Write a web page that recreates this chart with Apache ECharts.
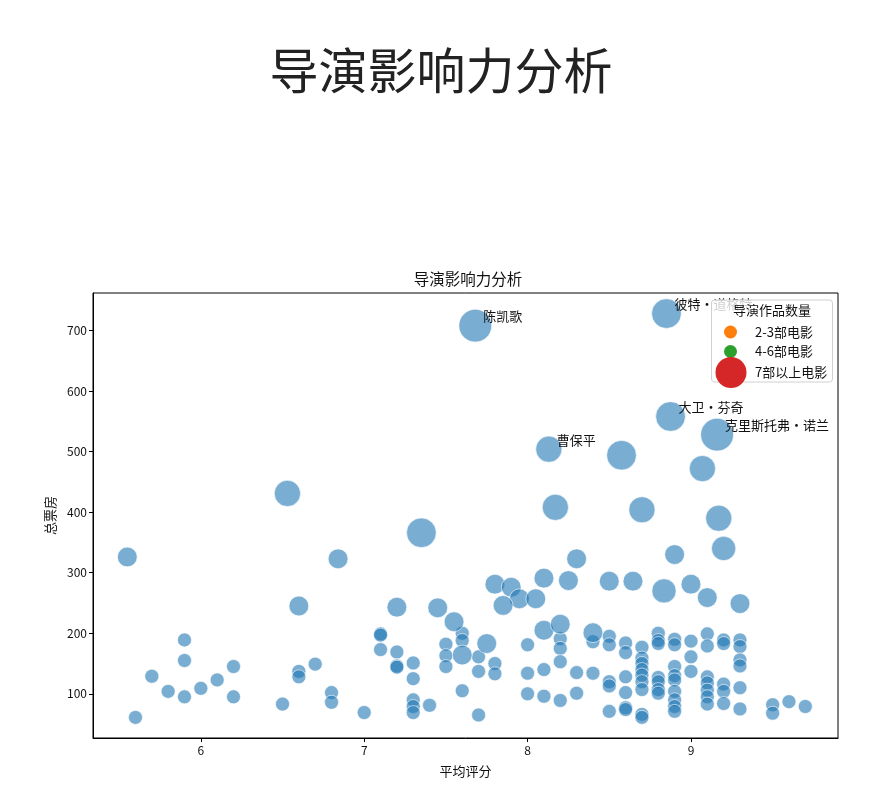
<!DOCTYPE html>
<html><head><meta charset="utf-8">
<script src="https://cdn.jsdelivr.net/npm/echarts@6/dist/echarts.min.js"></script>
<style>html,body{margin:0;padding:0;background:#fff}#c{width:879px;height:803px}</style>
</head><body><div id="c"></div>
<script>
// ---- data ----
const pageTitle = '导演影响力分析';
const chartTitle = '导演影响力分析';
const xAxisName = '平均评分';
const yAxisName = '总票房';
const legendTitle = '导演作品数量';
const legendGroups = ['2-3部电影', '4-6部电影', '7部以上电影'];
const xTicks = [6, 7, 8, 9];
const yTicks = [100, 200, 300, 400, 500, 600, 700];

// directors with several films (larger bubbles)
const majorRating = [5.55, 6.53, 6.60, 6.84, 7.35, 7.20, 7.45, 7.55, 7.60, 7.75,
  7.68, 7.80, 7.90, 7.95, 7.85, 8.05, 8.10, 8.25, 8.30, 8.10,
  8.20, 8.40, 8.13, 8.575, 8.17, 8.70, 8.85, 8.875, 9.16, 9.07,
  9.17, 9.20, 8.90, 8.50, 8.645, 8.835, 9.00, 9.10, 9.30];
const majorBox = [326, 431, 245, 323, 366, 243, 242, 219, 164, 183,
  708, 281, 276, 257, 246, 257, 291, 287, 323, 205,
  215, 201, 504, 494, 408, 404, 728, 558, 528, 472,
  390, 340, 330, 286, 286, 270, 281, 259, 249];
const majorFilms = [4, 7, 4, 4, 9, 4, 4, 4, 4, 4,
  11, 4, 4, 4, 4, 4, 4, 4, 4, 4,
  4, 4, 7, 9, 7, 7, 9, 9, 11, 7,
  7, 6, 4, 4, 4, 6, 4, 4, 4];
const majorNames = ['', '', '', '', '', '', '', '', '', '',
  '陈凯歌', '', '', '', '', '', '', '', '', '',
  '', '', '曹保平', '', '', '', '彼特·道格特', '大卫·芬奇', '克里斯托弗·诺兰', '',
  '', '', '', '', '', '', '', '', ''];

// directors with two films (small bubbles)
const minorRating = [
  5.90, 5.90, 5.70, 5.80, 5.90, 6.00, 6.10, 6.20, 6.20, 5.60, 6.50, 6.60, 6.60, 6.70, 6.80, 6.80,
  7.00, 7.10, 7.10, 7.10, 7.20, 7.20, 7.20, 7.30, 7.30, 7.30, 7.30, 7.30, 7.40,
  7.50, 7.50, 7.50, 7.60, 7.60, 7.60, 7.70, 7.70, 7.70, 7.80, 7.80,
  8.00, 8.00, 8.00, 8.10, 8.10, 8.20, 8.20, 8.20, 8.20, 8.30, 8.30,
  8.40, 8.40,
  8.50, 8.50, 8.50, 8.50, 8.50,
  8.60, 8.60, 8.60, 8.60, 8.60, 8.60,
  8.70, 8.70, 8.70, 8.70, 8.70, 8.70, 8.70, 8.70, 8.70,
  8.80, 8.80, 8.80, 8.80, 8.80, 8.80, 8.80,
  8.90, 8.90, 8.90, 8.90, 8.90, 8.90, 8.90, 8.90, 8.90,
  9.00, 9.00, 9.00,
  9.10, 9.10, 9.10, 9.10, 9.10, 9.10, 9.10,
  9.20, 9.20, 9.20, 9.20, 9.20,
  9.30, 9.30, 9.30, 9.30, 9.30, 9.30,
  9.50, 9.50, 9.60, 9.70];
const minorBox = [
  189, 155, 129, 104, 95, 109, 123, 145, 95, 61, 83, 137, 128, 149, 102, 86,
  69, 199, 197, 173, 169, 146, 144, 151, 125, 90, 79, 69, 81,
  182, 163, 145, 200, 188, 105, 161, 137, 65, 150, 133,
  181, 134, 100, 140, 96, 191, 175, 153, 89, 135, 101,
  186, 134,
  195, 181, 120, 113, 71,
  184, 168, 128, 102, 77, 74,
  177, 159, 150, 140, 131, 120, 107, 66, 61,
  200, 188, 183, 127, 120, 107, 101,
  190, 181, 145, 130, 123, 104, 90, 79, 71,
  187, 161, 137,
  199, 179, 128, 118, 106, 95, 83,
  189, 183, 116, 104, 84,
  189, 178, 156, 146, 110, 75,
  82, 68, 87, 79];
const minorFilms = 2;

// ---- build ----
const sizeOf = n => Math.sqrt(n) * 9.9;
const points = [];
minorRating.forEach((r, i) => points.push({ value: [r, minorBox[i]], symbolSize: sizeOf(minorFilms) }));
majorRating.forEach((r, i) => {
  const item = { value: [r, majorBox[i]], symbolSize: sizeOf(majorFilms[i]) };
  if (majorNames[i]) {
    item.name = majorNames[i];
    item.label = { show: true, formatter: '{b}' };
  }
  points.push(item);
});

const FONT = '"Noto Sans CJK SC", "Noto Sans", sans-serif';
const legendColors = ['#ff7f0e', '#2ca02c', '#d62728'];

const chart = echarts.init(document.getElementById('c'));
chart.setOption({
  animation: false,
  textStyle: { fontFamily: FONT },
  title: [
    { text: pageTitle, left: 441, top: 46, textAlign: 'center', padding: 0,
      textStyle: { fontSize: 49, fontWeight: 'normal', color: '#222', fontFamily: FONT } },
    { text: chartTitle, left: 468, top: 271, textAlign: 'center', padding: 0,
      textStyle: { fontSize: 15.5, fontWeight: 'normal', color: '#111', fontFamily: FONT } },
    { text: legendTitle, left: 772, top: 304, textAlign: 'center', padding: 0,
      textStyle: { fontSize: 13, fontWeight: 'normal', color: '#111', fontFamily: FONT } }
  ],
  graphic: [{
    type: 'rect', z: 3, shape: { x: 711.5, y: 300, width: 121, height: 82, r: 3 },
    style: { fill: 'rgba(255,255,255,0.8)', stroke: '#d0d0d0', lineWidth: 1 }
  }],
  legend: [
    { data: [legendGroups[0]], left: 724, top: 325.5, padding: 0, itemWidth: 13, itemHeight: 13, icon: 'circle',
      textStyle: { fontSize: 13, color: '#111', fontFamily: FONT, padding: [0, 0, 0, 13] } },
    { data: [legendGroups[1]], left: 724, top: 345, padding: 0, itemWidth: 13, itemHeight: 13, icon: 'circle',
      textStyle: { fontSize: 13, color: '#111', fontFamily: FONT, padding: [0, 0, 0, 13] } },
    { data: [legendGroups[2]], left: 715.5, top: 357, padding: 0, itemWidth: 31, itemHeight: 31, icon: 'circle',
      textStyle: { fontSize: 13, color: '#111', fontFamily: FONT, padding: [0, 0, 0, 3.5] } }
  ],
  grid: { left: 93, right: 41, top: 293, bottom: 65, show: true, borderColor: '#000', borderWidth: 1, backgroundColor: 'transparent' },
  xAxis: {
    type: 'value', min: 5.34, max: 9.9,
    name: xAxisName, nameLocation: 'middle', nameGap: 27,
    nameTextStyle: { fontSize: 13, color: '#111', fontFamily: FONT },
    axisLine: { show: true, lineStyle: { color: '#000', width: 1 } },
    axisTick: { show: true, length: 4, customValues: xTicks, lineStyle: { color: '#000' } },
    axisLabel: { customValues: xTicks, fontSize: 12, color: '#111', margin: 6, fontFamily: FONT },
    splitLine: { show: false }
  },
  yAxis: {
    type: 'value', min: 27, max: 762,
    name: yAxisName, nameLocation: 'middle', nameGap: 36, nameRotate: 90,
    nameTextStyle: { fontSize: 13, color: '#111', fontFamily: FONT },
    axisLine: { show: true, lineStyle: { color: '#000', width: 1 } },
    axisTick: { show: true, length: 4, customValues: yTicks, lineStyle: { color: '#000' } },
    axisLabel: { customValues: yTicks, fontSize: 12, color: '#111', margin: 6, fontFamily: FONT },
    splitLine: { show: false }
  },
  series: [
    {
      type: 'scatter', name: 'directors', z: 2,
      data: points,
      itemStyle: { color: 'rgba(31,119,180,0.6)', opacity: 1, borderColor: 'rgba(255,255,255,0.6)', borderWidth: 1 },
      label: { show: false, position: 'inside', align: 'left', verticalAlign: 'middle', offset: [8, -9.5],
        fontSize: 13, color: '#111', opacity: 1, fontFamily: FONT },
      emphasis: { disabled: true }
    },
    { type: 'scatter', name: legendGroups[0], data: [], itemStyle: { color: legendColors[0], opacity: 1 } },
    { type: 'scatter', name: legendGroups[1], data: [], itemStyle: { color: legendColors[1], opacity: 1 } },
    { type: 'scatter', name: legendGroups[2], data: [], itemStyle: { color: legendColors[2], opacity: 1 } }
  ]
});
</script></body></html>
